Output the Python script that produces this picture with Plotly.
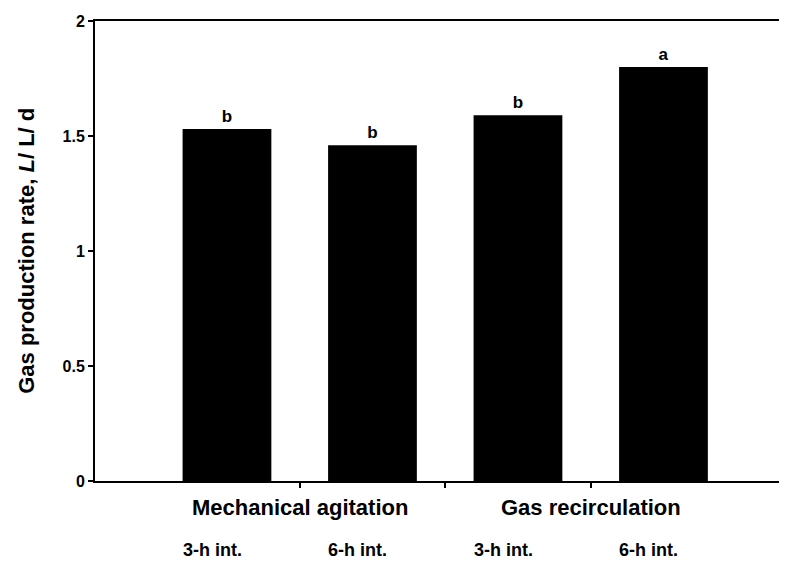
import plotly.graph_objects as go

# Data
treatments = ["Mechanical agitation", "Gas recirculation"]
intervals = ["3-h int.", "6-h int.", "3-h int.", "6-h int."]
gas_rate = [1.53, 1.46, 1.59, 1.80]
letters = ["b", "b", "b", "a"]
y_ticks = [0, 0.5, 1, 1.5, 2]
y_ticklabels = ["0", "0.5", "1", "1.5", "2"]

FONT = "Liberation Sans, Arial, sans-serif"
xpos = list(range(len(gas_rate)))

fig = go.Figure()
fig.add_trace(go.Bar(
    x=xpos, y=gas_rate, width=0.61,
    marker=dict(color="black", line=dict(width=0)),
    text=[f"<b>{t}</b>" for t in letters],
    textposition="outside",
    textfont=dict(family=FONT, size=17, color="black"),
    cliponaxis=False,
    showlegend=False,
))

annotations = []
# group labels (centered between the pair of bars)
for i, name in enumerate(treatments):
    annotations.append(dict(
        x=2 * i + 0.5, y=-0.058, xref="x", yref="paper",
        text=f"<b>{name}</b>", showarrow=False,
        font=dict(family=FONT, size=22, color="black"),
        xanchor="center", yanchor="middle",
    ))
# interval labels
for i, lab in enumerate(intervals):
    annotations.append(dict(
        x=xpos[i] - 0.1, y=-0.151, xref="x", yref="paper",
        text=f"<b>{lab}</b>", showarrow=False,
        font=dict(family=FONT, size=18, color="black"),
        xanchor="center", yanchor="middle",
    ))
# y-axis title
annotations.append(dict(
    x=-0.1, y=0.5, xref="paper", yref="paper",
    text="<b>Gas production rate, <i>L</i>/ L/ d</b>", textangle=-90,
    showarrow=False, font=dict(family=FONT, size=22, color="black"),
    xanchor="center", yanchor="middle",
))

fig.update_layout(
    width=779, height=559,
    margin=dict(l=87, r=0, t=13, b=86),
    paper_bgcolor="white", plot_bgcolor="white",
    annotations=annotations,
    xaxis=dict(
        range=[-0.907, 3.849],
        tickvals=[0.5, 1.5, 2.5], ticktext=["", "", ""],
        ticks="outside", ticklen=5, tickwidth=1.5, tickcolor="black",
        showline=True, linecolor="black", linewidth=1.5, mirror=True,
        showgrid=False, zeroline=False,
    ),
    yaxis=dict(
        range=[0, 2],
        tickvals=y_ticks, ticktext=[f"<b>{t}</b>" for t in y_ticklabels],
        ticks="outside", ticklen=5, tickwidth=1.5, tickcolor="black",
        tickfont=dict(family=FONT, size=16, color="black"),
        showline=True, linecolor="black", linewidth=2,
        showgrid=False, zeroline=False,
    ),
)

fig.write_html("out.html")
